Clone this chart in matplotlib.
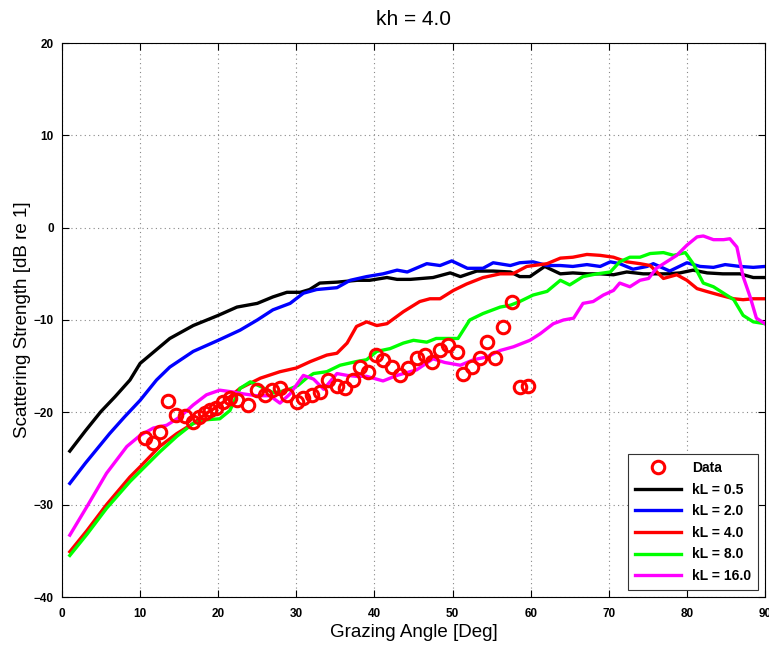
import matplotlib
matplotlib.use("Agg")
import matplotlib.pyplot as plt

plt.rcParams['font.family'] = ['Liberation Sans', 'DejaVu Sans']

# Measured data (red circles)
data_angle = [10.6, 11.7, 12.5, 13.6, 14.6, 15.7, 16.8, 17.5, 18.3, 18.9, 19.7, 20.6,
              21.5, 22.4, 23.8, 25.0, 26.0, 26.9, 27.9, 28.8, 30.1, 30.9, 32.0, 33.0,
              34.1, 35.2, 36.2, 37.3, 38.2, 39.2, 40.2, 41.1, 42.3, 43.3, 44.3, 45.4,
              46.5, 47.4, 48.4, 49.4, 50.6, 51.3, 52.5, 53.5, 54.4, 55.4, 56.5, 57.6,
              58.6, 59.7]
data_ss = [-22.8, -23.3, -22.1, -18.8, -20.3, -20.4, -21.1, -20.5, -20.1, -19.8, -19.5, -18.9,
           -18.5, -18.7, -19.2, -17.6, -18.1, -17.6, -17.4, -18.1, -18.9, -18.4, -18.1, -17.8,
           -16.5, -17.1, -17.4, -16.5, -15.1, -15.6, -13.8, -14.3, -15.1, -16.0, -15.2, -14.1,
           -13.8, -14.6, -13.3, -12.7, -13.5, -15.8, -15.1, -14.1, -12.4, -14.1, -10.8, -8.1,
           -17.3, -17.1]

# kL = 0.5
ang_05 = [1, 3, 5, 6.8, 8.7, 10, 13.8, 16.8, 20, 22.4, 25, 27, 28.8, 30.5, 31.7, 33, 35.2,
          37.8, 39.4, 41.6, 42.9, 44.6, 47.5, 49.7, 51, 53.1, 55.2, 57.4, 58.6, 59.9, 61.8,
          63.8, 65.4, 67.2, 68.9, 70.6, 72.3, 74.4, 75.7, 77.5, 79.1, 80.8, 82.6, 84.6,
          86.8, 88.5, 90]
ss_05 = [-24.2, -22.0, -19.9, -18.3, -16.5, -14.7, -12.0, -10.6, -9.5, -8.6, -8.2, -7.5,
         -7.0, -7.0, -6.7, -6.0, -5.9, -5.7, -5.7, -5.4, -5.6, -5.6, -5.4, -4.9, -5.3, -4.7,
         -4.7, -4.8, -5.3, -5.3, -4.2, -5.0, -4.9, -5.0, -5.0, -5.1, -4.8, -5.0, -5.0, -5.0,
         -4.9, -4.6, -4.9, -5.0, -5.0, -5.4, -5.4]

# kL = 2.0
ang_2 = [1, 3, 6.1, 8, 10, 12.1, 13.8, 16.8, 20, 22.8, 25, 27, 29.2, 30.9, 32.6, 35.2, 36.9,
         39, 41.1, 42.9, 44.2, 46.7, 48.4, 49.9, 51.9, 53.9, 55.2, 57.4, 58.6, 60.3, 62.1,
         63.8, 65.4, 67.2, 68.9, 70.2, 71.4, 73.1, 74.9, 75.7, 77.8, 80, 81.7, 83.4, 84.9,
         86.8, 88.5, 90]
ss_2 = [-27.7, -25.5, -22.3, -20.5, -18.7, -16.5, -15.1, -13.4, -12.2, -11.1, -10.0, -8.9,
        -8.2, -7.1, -6.7, -6.5, -5.7, -5.3, -5.0, -4.6, -4.8, -3.9, -4.1, -3.6, -4.4, -4.4,
        -3.8, -4.1, -3.8, -3.7, -4.1, -4.1, -4.2, -4.0, -4.2, -3.7, -3.9, -4.5, -4.2, -3.9,
        -4.7, -3.8, -4.2, -4.3, -4.0, -4.2, -4.3, -4.2]

# kL = 4.0
ang_4 = [1, 3.2, 5.7, 8.7, 10, 12.5, 14.7, 16.8, 18.5, 20.2, 22.8, 25.4, 27.9, 30, 31.8,
         33.9, 35.2, 36.5, 37.7, 39, 40.3, 41.6, 43.7, 45.8, 47.1, 48.4, 50.1, 51.8, 53.9,
         56.1, 57.7, 59.5, 62.1, 63.8, 65.4, 67.2, 68.9, 70.6, 72.3, 74, 75.3, 77, 78.7, 80,
         81.3, 82.5, 84.2, 86, 87.2, 88.5, 90]
ss_4 = [-35.1, -32.8, -30.0, -27.0, -25.9, -23.7, -22.3, -21.2, -20.1, -19.2, -17.4, -16.3,
        -15.6, -15.2, -14.5, -13.8, -13.6, -12.5, -10.7, -10.2, -10.6, -10.4, -9.1, -8.0,
        -7.7, -7.7, -6.8, -6.1, -5.4, -5.0, -5.0, -4.2, -3.9, -3.3, -3.2, -2.9, -3.0, -3.2,
        -3.7, -3.9, -4.1, -5.5, -5.1, -5.7, -6.6, -6.9, -7.3, -7.7, -7.8, -7.7, -7.7]

# kL = 8.0
ang_8 = [1, 3.2, 5.7, 8.7, 10, 12.5, 14.7, 16.8, 18.5, 20.2, 21.5, 22.8, 24.1, 25.4, 27.1,
         28.8, 30.2, 31.3, 32.2, 33.9, 35.6, 37.7, 39, 40.3, 42, 43.7, 45, 46.7, 47.9, 49.2,
         50.7, 52.2, 53.9, 56.1, 57.4, 58.6, 60.3, 62.1, 63.8, 65, 66.7, 68.5, 70.2, 71.4,
         72.7, 74, 75.3, 77, 78.3, 79.8, 80.8, 82.1, 83.4, 84.7, 86, 87.2, 88.5, 90]
ss_8 = [-35.5, -33.2, -30.4, -27.5, -26.4, -24.3, -22.6, -21.2, -20.8, -20.7, -19.8, -17.4,
        -16.7, -17.2, -17.9, -17.6, -17.1, -16.3, -15.8, -15.6, -14.9, -14.5, -14.3, -13.4,
        -13.1, -12.5, -12.2, -12.4, -12.0, -12.0, -12.0, -10.0, -9.3, -8.6, -8.4, -8.0,
        -7.3, -6.9, -5.7, -6.2, -5.3, -5.0, -4.8, -3.7, -3.2, -3.2, -2.8, -2.7, -3.0, -2.7,
        -3.9, -6.0, -6.4, -7.1, -7.8, -9.5, -10.2, -10.4]

# kL = 16.0
ang_16 = [1, 3.2, 5.7, 8.3, 10, 11.7, 13.4, 15.1, 16.8, 18.5, 20.2, 21.9, 23.2, 24.9, 26.6,
          27.9, 29.2, 30.9, 32.2, 33.5, 35.2, 36.5, 37.7, 39, 41.1, 42.9, 45.4, 47.5, 49,
          51, 52.7, 54.4, 56.1, 57.8, 59.9, 61.2, 62.9, 64.2, 65.5, 66.7, 68, 69.3, 70.6,
          71.4, 72.7, 74, 75.1, 76.1, 77.4, 78.7, 80, 81.3, 82.1, 83.4, 84.7, 85.5, 86.4,
          87.2, 88.1, 88.9, 90]
ss_16 = [-33.3, -30.2, -26.6, -23.7, -22.5, -21.7, -21.4, -20.5, -19.2, -18.1, -17.6, -17.8,
         -18.0, -18.2, -18.2, -19.0, -18.0, -16.0, -16.4, -17.5, -15.8, -16.0, -16.1, -16.1,
         -16.6, -16.0, -15.4, -14.2, -14.6, -14.9, -14.3, -14.0, -13.3, -12.9, -12.2, -11.5,
         -10.4, -10.0, -9.8, -8.2, -8.0, -7.3, -6.8, -6.0, -6.4, -5.7, -5.5, -4.4, -3.7,
         -3.0, -1.9, -1.0, -0.9, -1.3, -1.3, -1.2, -2.1, -5.3, -7.5, -9.8, -10.4]

series = [
    (ang_05, ss_05, 'kL = 0.5', '#000000'),
    (ang_2, ss_2, 'kL = 2.0', '#0000ff'),
    (ang_4, ss_4, 'kL = 4.0', '#ff0000'),
    (ang_8, ss_8, 'kL = 8.0', '#00ff00'),
    (ang_16, ss_16, 'kL = 16.0', '#ff00ff'),
]

xticks = list(range(0, 91, 10))
yticks = list(range(-40, 21, 10))

fig = plt.figure(figsize=(7.69, 6.49), dpi=100)
ax = fig.add_axes([62 / 769, 52 / 649, 703 / 769, 554 / 649])

ax.plot(data_angle, data_ss, linestyle='none', marker='o', markersize=9,
        markerfacecolor='none', markeredgecolor='#ff0000', markeredgewidth=2.2,
        label='Data', zorder=3)
for a, s, lab, col in series:
    ax.plot(a, s, color=col, linewidth=2.4, label=lab, zorder=2)

ax.set_xlim(0, 90)
ax.set_ylim(-40, 20)
ax.set_xticks(xticks)
ax.set_yticks(yticks)
ax.tick_params(direction='in', top=True, right=True, length=5, width=0.8,
               labelsize=8.5)
ax.tick_params(axis='x', pad=8)
ax.tick_params(axis='y', pad=6)
for lbl in ax.get_xticklabels() + ax.get_yticklabels():
    lbl.set_fontweight('bold')
ax.grid(True, linestyle=(0, (1, 3)), color='#888888', linewidth=0.8)
for sp in ax.spines.values():
    sp.set_linewidth(0.8)

ax.set_xlabel('Grazing Angle [Deg]', fontsize=13.5, labelpad=3)
ax.set_ylabel('Scattering Strength [dB re 1]', fontsize=13.5, labelpad=2)
ax.set_title('kh = 4.0', fontsize=15, pad=13)

leg = ax.legend(loc='lower right', fontsize=10, handlelength=3.3, borderaxespad=0.5,
                fancybox=False, framealpha=1, edgecolor='#333333', labelspacing=0.55,
                borderpad=0.5)
leg.get_frame().set_linewidth(0.8)
for t in leg.get_texts():
    t.set_fontweight('bold')

fig.savefig('out.png', dpi=100)
